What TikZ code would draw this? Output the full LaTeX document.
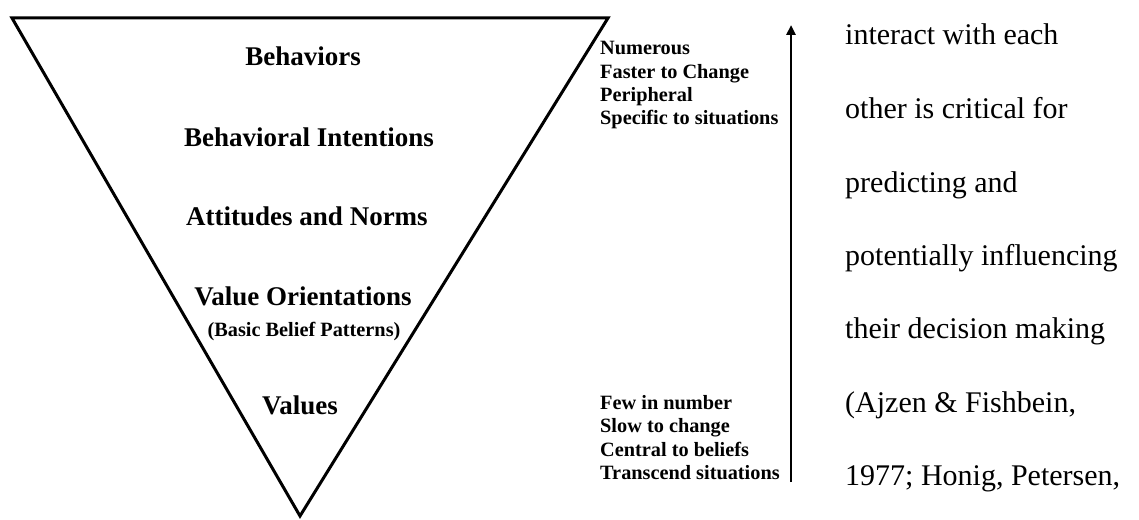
\documentclass[tikz,border=0pt]{standalone}
\usepackage{fontspec}
\setmainfont{Liberation Serif}
\usetikzlibrary{arrows.meta}
\begin{document}
\begin{tikzpicture}[x=1pt,y=-1pt,
  lbl/.style={font=\fontsize{27}{27}\selectfont\bfseries, anchor=base, inner sep=0pt},
  sublbl/.style={font=\fontsize{20.3}{20.3}\selectfont\bfseries, anchor=base, inner sep=0pt},
  lst/.style={font=\fontsize{20.3}{20.3}\selectfont\bfseries, anchor=base west, inner sep=0pt},
  para/.style={font=\fontsize{30}{30}\selectfont, anchor=base west, inner sep=0pt},
  tri/.style={line width=3pt, line join=miter},
  arr/.style={line width=2.5pt, -{Triangle[length=10pt,width=9pt]}}]
\useasboundingbox (0,0) rectangle (1139,519);
% inverted triangle
\coordinate (tl) at (12,18);
\coordinate (tr) at (608,18);
\coordinate (ap) at (300,516);
\draw[tri] (tl) -- (tr) -- (ap) -- cycle;
% labels in triangle
\node[lbl] (beh) at (303,66) {Behaviors};
\node[lbl] (bint) at (309,146) {Behavioral Intentions};
\node[lbl] (att) at (307,225) {Attitudes and Norms};
\node[lbl] (vo) at (303,305) {Value Orientations};
\node[sublbl] (bbp) at (304,336) {(Basic Belief Patterns)};
\node[lbl] (val) at (300,414) {Values};
% upper list
\node[lst] (u1) at (600,55) {Numerous};
\node[lst] (u2) at (600,78) {Faster to Change};
\node[lst] (u3) at (600,101) {Peripheral};
\node[lst] (u4) at (600,124) {Specific to situations};
% lower list
\node[lst] (l1) at (600,409) {Few in number};
\node[lst] (l2) at (600,432) {Slow to change};
\node[lst] (l3) at (600,456) {Central to beliefs};
\node[lst] (l4) at (600,479) {Transcend situations};
% arrow
\coordinate (abot) at (791,482);
\coordinate (atop) at (791,25);
\draw[arr] (abot) -- (atop);
% paragraph text
\node[para] (p1) at (845,45) {interact with each};
\node[para] (p2) at (845,118) {other is critical for};
\node[para] (p3) at (845,192) {predicting and};
\node[para] (p4) at (845,265) {potentially influencing};
\node[para] (p5) at (845,338) {their decision making};
\node[para] (p6) at (845,412) {(Ajzen \& Fishbein,};
\node[para] (p7) at (845,485) {1977; Honig, Petersen,};
\end{tikzpicture}
\end{document}
